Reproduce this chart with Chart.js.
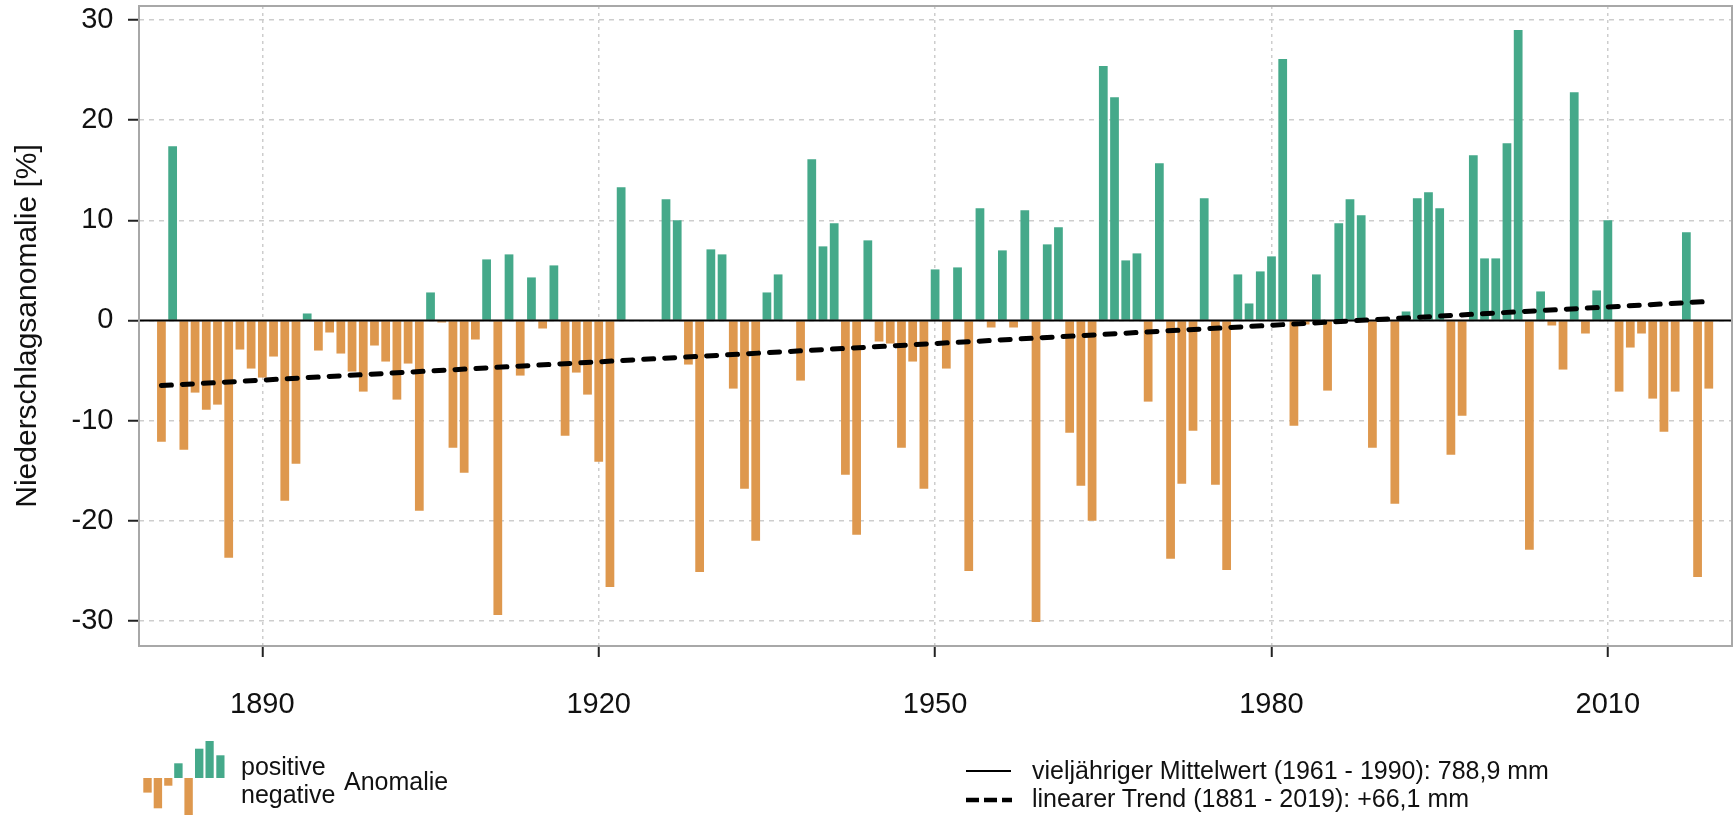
<!DOCTYPE html>
<html lang="de">
<head>
<meta charset="utf-8">
<title>Niederschlagsanomalie 1881 - 2019</title>
<script src="https://cdn.jsdelivr.net/npm/chart.js@4.4.1/dist/chart.umd.min.js"></script>
<style>
    html, body { margin: 0; padding: 0; background: #fff; }
    #wrap {
        position: relative; width: 1734px; height: 816px; overflow: hidden;
        font-family: 'Liberation Sans', Arial, Helvetica, sans-serif; color: #111;
    }
    #grafik, #symbole { position: absolute; left: 0; top: 0; }
    .leg { position: absolute; font-size: 25px; line-height: 28px; white-space: nowrap; }
</style>
</head>
<body>
<div id="wrap">
    <canvas id="grafik" width="1734" height="816"></canvas>

    <!-- Legendensymbole -->
    <svg id="symbole" width="1734" height="816">
        <g fill="#de984e">
            <rect x="143.3" y="778" width="8.4" height="14.6"/>
            <rect x="153.7" y="778" width="8.4" height="30.3"/>
            <rect x="164.2" y="778" width="8.2" height="7.7"/>
            <rect x="184.4" y="778" width="8.4" height="37"/>
        </g>
        <g fill="#45a98a">
            <rect x="174.2" y="763.3" width="8.4" height="14.7"/>
            <rect x="195" y="748.7" width="8.4" height="29.3"/>
            <rect x="205.5" y="741" width="8.2" height="37"/>
            <rect x="216.3" y="755.3" width="8.2" height="22.7"/>
        </g>
        <line x1="966" y1="771" x2="1011" y2="771" stroke="#000" stroke-width="2"/>
        <line x1="966" y1="800" x2="1012" y2="800" stroke="#000" stroke-width="4.5" stroke-dasharray="13 5"/>
    </svg>

    <div class="leg" style="left:241px; top:752px">positive</div>
    <div class="leg" style="left:241px; top:780px">negative</div>
    <div class="leg" style="left:344px; top:767px">Anomalie</div>
    <div class="leg" style="left:1032px; top:756px">vieljähriger Mittelwert (1961 - 1990): 788,9 mm</div>
    <div class="leg" style="left:1032px; top:784px">linearer Trend (1881 - 2019): +66,1 mm</div>
</div>

<script>
// Jahre 1881 - 2019
const jahre = Array.from({ length: 2019 - 1881 + 1 }, (_, i) => 1881 + i);

// Abweichung vom Mittel 1961-1990 in %
const anomalie = [
    -12.1, 17.4, -12.9, -7.2, -8.9, -8.4, -23.7, -2.9, -4.8, -5.7,     // 1881-1890
    -3.6, -18.0, -14.3, 0.7, -3.0, -1.2, -3.3, -5.1, -7.1, -2.5,       // 1891-1900
    -4.1, -7.9, -4.3, -19.0, 2.8, -0.2, -12.7, -15.2, -1.9, 6.1,       // 1901-1910
    -29.4, 6.6, -5.5, 4.3, -0.8, 5.5, -11.5, -5.2, -7.4, -14.1,        // 1911-1920
    -26.6, 13.3, 0, 0, 0, 12.1, 10.0, -4.4, -25.1, 7.1,                // 1921-1930
    6.6, -6.8, -16.8, -22.0, 2.8, 4.6, 0, -6.0, 16.1, 7.4,             // 1931-1940
    9.7, -15.4, -21.4, 8.0, -2.1, -2.3, -12.7, -4.1, -16.8, 5.1,       // 1941-1950
    -4.8, 5.3, -25.0, 11.2, -0.7, 7.0, -0.7, 11.0, -30.1, 7.6,         // 1951-1960
    9.3, -11.2, -16.5, -20.0, 25.4, 22.3, 6.0, 6.7, -8.1, 15.7,        // 1961-1970
    -23.8, -16.3, -11.0, 12.2, -16.4, -24.9, 4.6, 1.7, 4.9, 6.4,       // 1971-1980
    26.1, -10.5, -0.4, 4.6, -7.0, 9.7, 12.1, 10.5, -12.7, 0,           // 1981-1990
    -18.3, 0.9, 12.2, 12.8, 11.2, -13.4, -9.5, 16.5, 6.2, 6.2,         // 1991-2000
    17.7, 29.0, -22.9, 2.9, -0.5, -4.9, 22.8, -1.3, 3.0, 10.0,         // 2001-2010
    -7.1, -2.7, -1.3, -7.8, -11.1, -7.1, 8.8, -25.6, -6.8              // 2011-2019
];

// linearer Trend, Endpunkte 1881 und 2019
const trendJahre = [1881, 2019];
const trendWerte = [-6.5, 1.9];

const yTicks = [-30, -20, -10, 0, 10, 20, 30];
const xTicks = [1890, 1920, 1950, 1980, 2010];

const gruen = '#45a98a';
const orange = '#de984e';

Chart.defaults.font.family = "'Liberation Sans', Arial, Helvetica, sans-serif";
Chart.defaults.color = '#111';

// Nulllinie (Mittelwert) und grauer Rahmen um die Zeichenfläche
const rahmenPlugin = {
    id: 'rahmen',
    afterDatasetDraw(chart, args) {
        if (args.meta.type !== 'bar') return;
        const { ctx, chartArea: a, scales: { y } } = chart;
        const y0 = y.getPixelForValue(0);
        ctx.save();
        ctx.strokeStyle = '#000';
        ctx.lineWidth = 2;
        ctx.beginPath();
        ctx.moveTo(a.left, y0);
        ctx.lineTo(a.right, y0);
        ctx.stroke();
        ctx.restore();
    },
    afterDraw(chart) {
        const { ctx, chartArea: a } = chart;
        ctx.save();
        ctx.strokeStyle = '#a8a8a8';
        ctx.lineWidth = 2;
        ctx.strokeRect(a.left, a.top, a.right - a.left, a.bottom - a.top);
        ctx.restore();
    }
};

new Chart(document.getElementById('grafik'), {
    type: 'bar',
    data: {
        datasets: [
            {
                type: 'line',
                label: 'linearer Trend',
                data: trendJahre.map((j, i) => ({ x: j, y: trendWerte[i] })),
                borderColor: '#000',
                borderWidth: 5,
                borderDash: [10, 11],
                borderCapStyle: 'round',
                pointRadius: 0,
                fill: false,
                order: 0
            },
            {
                type: 'bar',
                label: 'Anomalie',
                data: jahre.map((j, i) => ({ x: j, y: anomalie[i] })),
                backgroundColor: c => (c.raw && c.raw.y >= 0) ? gruen : orange,
                barPercentage: 0.78,
                categoryPercentage: 1,
                order: 1
            }
        ]
    },
    options: {
        responsive: false,
        animation: false,
        devicePixelRatio: 1,
        layout: { padding: { top: 6, right: 2, left: 0, bottom: 0 } },
        plugins: { legend: { display: false }, tooltip: { enabled: false } },
        scales: {
            x: {
                type: 'linear',
                min: 1879,
                max: 2021.07,
                offset: false,
                afterBuildTicks: s => { s.ticks = xTicks.map(v => ({ value: v })); },
                afterFit: s => { s.height = 170; s.paddingLeft = 0; s.paddingRight = 0; },
                grid: {
                    offset: false, color: '#cdcdcd', lineWidth: 1.5,
                    tickLength: 11, tickColor: '#222', tickWidth: 2, tickBorderDash: []
                },
                border: { display: false, dash: [3, 4] },
                ticks: {
                    color: '#111', font: { size: 29, lineHeight: 1 }, padding: 33,
                    maxRotation: 0, autoSkip: false, callback: v => String(v)
                }
            },
            y: {
                min: -32.5,
                max: 31.4,
                afterBuildTicks: s => { s.ticks = yTicks.map(v => ({ value: v })); },
                afterFit: s => { s.width = 139; s.paddingTop = 0; s.paddingBottom = 0; },
                grid: {
                    color: '#cdcdcd', lineWidth: 1.5,
                    tickLength: 11, tickColor: '#222', tickWidth: 2, tickBorderDash: []
                },
                border: { display: false, dash: [5, 5] },
                ticks: {
                    color: '#111', font: { size: 29, lineHeight: 1 }, padding: 14.5,
                    callback: v => String(v)
                },
                title: {
                    display: true,
                    text: 'Niederschlagsanomalie [%]',
                    color: '#111',
                    font: { size: 30, lineHeight: 1.2 },
                    padding: { top: 10, bottom: 0 }
                }
            }
        }
    },
    plugins: [rahmenPlugin]
});
</script>
</body>
</html>
